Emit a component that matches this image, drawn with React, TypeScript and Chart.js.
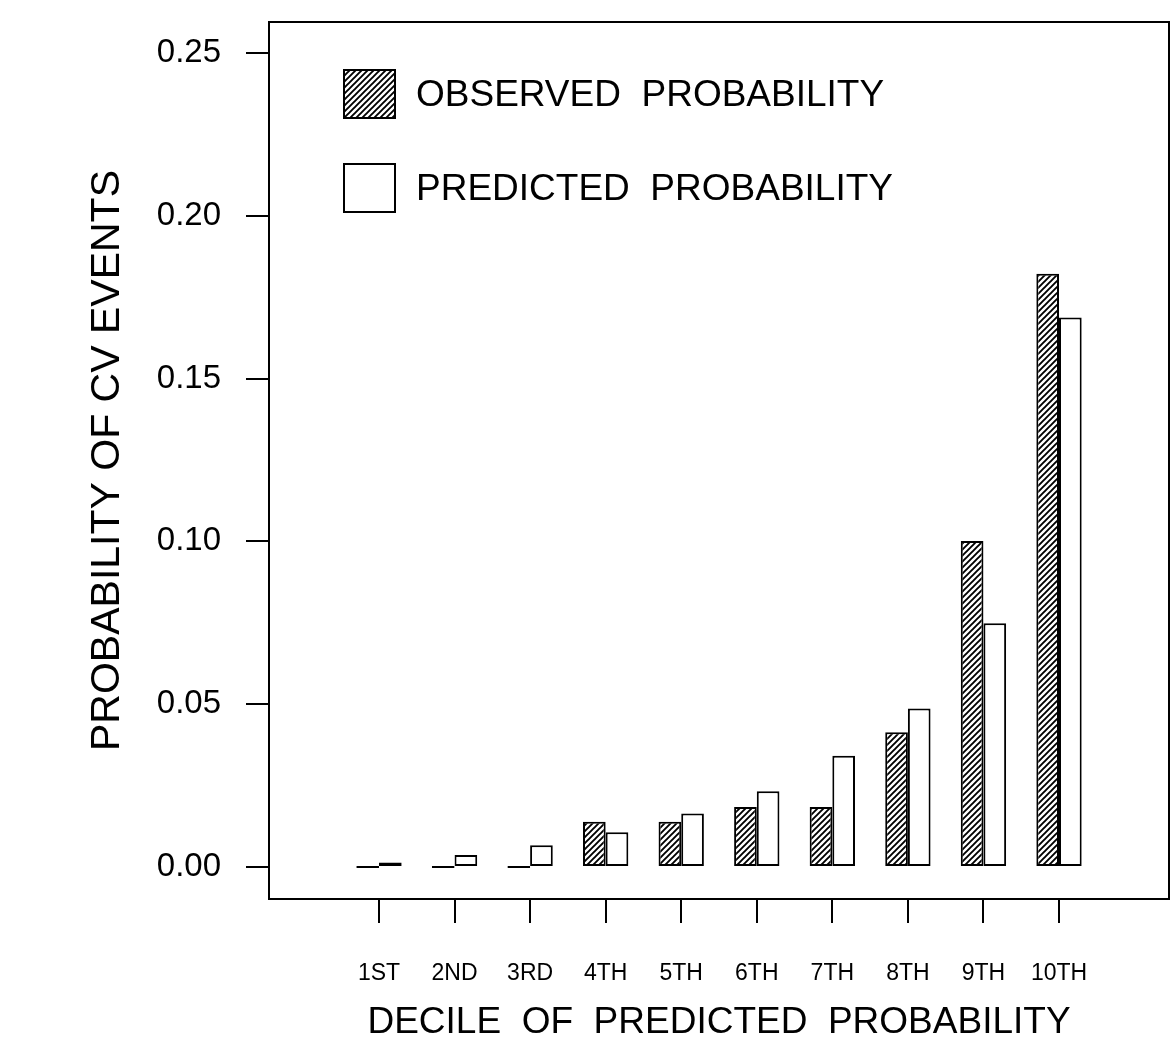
import React, { useEffect, useRef } from 'react';
import { Chart, registerables } from 'chart.js';

Chart.register(...registerables);

// ---- data ----
const deciles = ['1ST', '2ND', '3RD', '4TH', '5TH', '6TH', '7TH', '8TH', '9TH', '10TH'];
const observed = [0, 0, 0, 0.0139, 0.0139, 0.0184, 0.0184, 0.0414, 0.1001, 0.1822];
const predicted = [0.0014, 0.0037, 0.0067, 0.0107, 0.0164, 0.0233, 0.0342, 0.0487, 0.0749, 0.1688];
const yTicks = [0, 0.05, 0.1, 0.15, 0.2, 0.25];
const seriesLabels = ['OBSERVED  PROBABILITY', 'PREDICTED  PROBABILITY'];
const xTitle = 'DECILE  OF  PREDICTED  PROBABILITY';
const yTitle = 'PROBABILITY OF CV EVENTS';

const FONT = '"Liberation Sans", Arial, Helvetica, sans-serif';
const W = 1171;
const H = 1059;

function makeHatch(): CanvasPattern | string {
  const s = 6;
  const c = document.createElement('canvas');
  c.width = s;
  c.height = s;
  const g = c.getContext('2d');
  if (!g) return '#fff';
  g.fillStyle = '#fff';
  g.fillRect(0, 0, s, s);
  g.strokeStyle = '#000';
  g.lineWidth = 1.9;
  g.beginPath();
  g.moveTo(-1, s + 1);
  g.lineTo(s + 1, -1);
  g.moveTo(-1, 1);
  g.lineTo(1, -1);
  g.moveTo(s - 1, s + 1);
  g.lineTo(s + 1, s - 1);
  g.stroke();
  const p = g.createPattern(c, 'repeat');
  return p || '#fff';
}

const boxPlugin = {
  id: 'boxPlugin',
  afterDraw(chart: any) {
    const { ctx, chartArea } = chart;
    ctx.save();
    ctx.strokeStyle = '#000';
    ctx.lineWidth = 2;
    ctx.strokeRect(chartArea.left, chartArea.top, chartArea.right - chartArea.left, chartArea.bottom - chartArea.top);
    ctx.restore();
  },
};

const legendPlugin = {
  id: 'customLegend',
  afterDraw(chart: any) {
    const { ctx, chartArea } = chart;
    const bx = chartArea.left + 75;
    const by0 = chartArea.top + 48;
    const bw = 51;
    const bh = 48;
    const gap = 94;
    ctx.save();
    chart.data.datasets.forEach((ds: any, i: number) => {
      const by = by0 + i * gap;
      ctx.fillStyle = ds.backgroundColor;
      ctx.fillRect(bx, by, bw, bh);
      ctx.strokeStyle = '#000';
      ctx.lineWidth = 2;
      ctx.strokeRect(bx, by, bw, bh);
      ctx.fillStyle = '#000';
      ctx.font = `37px ${FONT}`;
      ctx.textAlign = 'left';
      ctx.textBaseline = 'middle';
      ctx.fillText(ds.label, bx + bw + 21, by + bh / 2 + 2);
    });
    ctx.restore();
  },
};

export default function App() {
  const ref = useRef<HTMLCanvasElement | null>(null);

  useEffect(() => {
    if (!ref.current) return;
    const hatch = makeHatch();
    // x positions: decile index 1..10 on a linear scale
    const xMin = 1 - 110 / 75.56;
    const xMax = 10 + 110 / 75.56;
    const yMin = -32 / 3256;
    const yMax = 0.25 + 31 / 3256;

    const chart = new Chart(ref.current, {
      type: 'bar',
      data: {
        datasets: [
          {
            label: seriesLabels[0],
            data: deciles.map((_, i) => ({ x: i + 1, y: observed[i] })),
            backgroundColor: hatch as any,
            borderColor: '#000',
            borderWidth: 2,
            borderSkipped: false,
            minBarLength: 2,
            categoryPercentage: 0.6,
            barPercentage: 1,
          },
          {
            label: seriesLabels[1],
            data: deciles.map((_, i) => ({ x: i + 1, y: predicted[i] })),
            backgroundColor: '#ffffff',
            borderColor: '#000',
            borderWidth: 2,
            borderSkipped: false,
            minBarLength: 2,
            categoryPercentage: 0.6,
            barPercentage: 1,
          },
        ],
      },
      options: {
        responsive: false,
        animation: false,
        layout: { autoPadding: false, padding: { left: 0, top: 22, right: 2, bottom: 0 } },
        plugins: {
          legend: { display: false },
          tooltip: { enabled: false },
          title: { display: false },
        },
        scales: {
          x: {
            type: 'linear',
            min: xMin,
            max: xMax,
            offset: false,
            afterBuildTicks: (s: any) => {
              s.ticks = deciles.map((_, i) => ({ value: i + 1 }));
            },
            afterFit: (s: any) => {
              s.height = H - 899;
              s.paddingLeft = 0;
              s.paddingRight = 0;
            },
            border: { display: false },
            grid: { offset: false, drawOnChartArea: false, drawTicks: true, tickLength: 24, color: '#000', lineWidth: 2 },
            ticks: {
              color: '#000',
              font: { family: FONT, size: 23 },
              padding: 37,
              maxRotation: 0,
              autoSkip: false,
              callback: (v: any) => deciles[Math.round(Number(v)) - 1] ?? '',
            },
            title: {
              display: true,
              text: xTitle,
              color: '#000',
              font: { family: FONT, size: 37 },
              padding: { top: 0, bottom: 14 },
            },
          },
          y: {
            type: 'linear',
            min: yMin,
            max: yMax,
            afterBuildTicks: (s: any) => {
              s.ticks = yTicks.map((v) => ({ value: v }));
            },
            afterFit: (s: any) => {
              s.width = 269;
              s.paddingTop = 0;
              s.paddingBottom = 0;
            },
            border: { display: false },
            grid: { drawOnChartArea: false, drawTicks: true, tickLength: 23, color: '#000', lineWidth: 2 },
            ticks: {
              color: '#000',
              font: { family: FONT, size: 33 },
              padding: 25,
              callback: (v: any) => Number(v).toFixed(2),
            },
            title: {
              display: true,
              text: yTitle,
              color: '#000',
              font: { family: FONT, size: 41 },
              padding: { top: 83, bottom: 0 },
            },
          },
        },
      } as any,
      plugins: [boxPlugin, legendPlugin],
    });
    return () => chart.destroy();
  }, []);

  return (
    <div style={{ position: 'absolute', left: 0, top: 0, width: W, height: H, background: '#fff' }}>
      <canvas ref={ref} width={W} height={H} style={{ width: W, height: H, display: 'block' }} />
    </div>
  );
}
